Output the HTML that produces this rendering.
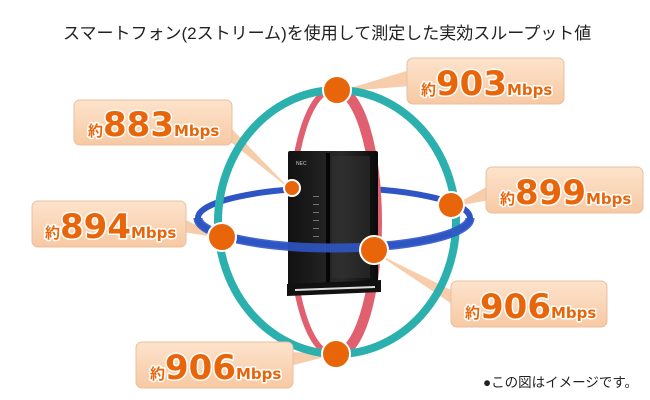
<!DOCTYPE html>
<html><head><meta charset="utf-8"><style>
html,body{margin:0;padding:0;background:#fff;width:650px;height:400px;overflow:hidden}
svg{display:block}
.t{font-family:"DejaVu Sans","Noto Sans CJK JP",sans-serif;font-weight:bold;fill:#e8650a;stroke:#fff;stroke-width:3;paint-order:stroke;stroke-linejoin:round}
</style></head><body>
<svg width="650" height="400" viewBox="0 0 650 400" xmlns="http://www.w3.org/2000/svg">
<defs>
<linearGradient id="bx" x1="0" y1="0" x2="0" y2="1"><stop offset="0" stop-color="#fde3cc"/><stop offset="1" stop-color="#f7c9a3"/></linearGradient>
<linearGradient id="rt" x1="0" y1="0" x2="1" y2="0"><stop offset="0" stop-color="#111"/><stop offset="0.6" stop-color="#2a2a2a"/><stop offset="1" stop-color="#0a0a0a"/></linearGradient>
</defs>
<text x="63" y="39" font-family="Liberation Sans,'Noto Sans CJK JP',sans-serif" font-size="17" fill="#222">スマートフォン(2ストリーム)を使用して測定した実効スループット値</text>

<g fill="#f6c8a3" opacity="0.9">
<polygon points="410,70 410,86 337,92"/>
<polygon points="228,125 228,140 291,190"/>
<polygon points="490,185 490,200 451,207"/>
<polygon points="182,218 182,232 222,238"/>
<polygon points="455,292 455,306 374,252"/>
<polygon points="290,352 290,366 336,354"/>
</g>

<ellipse cx="334" cy="218" rx="136" ry="30" fill="none" stroke="#2f55c4" stroke-width="6"/>
<ellipse cx="333" cy="222" rx="42" ry="132" fill="none" stroke="#e06070" stroke-width="6"/>
<path d="M337,90 A40 132 0 0 1 337,354" fill="none" stroke="#e06070" stroke-width="10"/>
<ellipse cx="337" cy="222" rx="119" ry="132" fill="none" stroke="#2bb0ae" stroke-width="8"/>

<rect x="288" y="151" width="90" height="137" rx="2" fill="url(#rt)"/>
<rect x="326" y="153" width="4" height="133" fill="#050505"/>
<rect x="332" y="156" width="38" height="122" fill="#333" opacity="0.5"/>
<text x="296" y="165" font-family="Liberation Sans,sans-serif" font-size="5" fill="#ccc">NEC</text>
<g fill="#777"><rect x="313" y="196" width="6" height="1"/><rect x="313" y="204" width="6" height="1"/><rect x="313" y="212" width="6" height="1"/><rect x="313" y="220" width="6" height="1"/><rect x="313" y="228" width="6" height="1"/><rect x="313" y="236" width="6" height="1"/></g>
<polygon points="287,284 381,280 381,292 287,296" fill="#111"/>
<polygon points="295,289 375,286 375,288 295,291" fill="#ddd"/>

<path d="M198,218 A136 30 0 0 0 470,218" fill="none" stroke="#2f55c4" stroke-width="9" opacity="0.9"/>

<g fill="#e8650a" stroke="#fff" stroke-width="2">
<circle cx="337" cy="90" r="14"/>
<circle cx="292" cy="188" r="8"/>
<circle cx="451" cy="205" r="13"/>
<circle cx="222" cy="237" r="14"/>
<circle cx="374" cy="250" r="14"/>
<circle cx="336" cy="354" r="14"/>
</g>

<g fill="url(#bx)" stroke="#e8bfa0" stroke-width="1">
<rect x="407" y="58" width="157" height="46" rx="6"/>
<rect x="74" y="100" width="158" height="45" rx="6"/>
<rect x="486" y="167" width="157" height="46" rx="6"/>
<rect x="32" y="201" width="154" height="46" rx="6"/>
<rect x="451" y="281" width="156" height="46" rx="6"/>
<rect x="136" y="342" width="157" height="46" rx="6"/>
</g>
<g class="t">
<text x="421" y="95"><tspan font-size="15">約</tspan><tspan font-size="34">903</tspan><tspan font-size="15">Mbps</tspan></text>
<text x="88" y="136"><tspan font-size="15">約</tspan><tspan font-size="34">883</tspan><tspan font-size="15">Mbps</tspan></text>
<text x="500" y="204"><tspan font-size="15">約</tspan><tspan font-size="34">899</tspan><tspan font-size="15">Mbps</tspan></text>
<text x="45" y="238"><tspan font-size="15">約</tspan><tspan font-size="34">894</tspan><tspan font-size="15">Mbps</tspan></text>
<text x="465" y="318"><tspan font-size="15">約</tspan><tspan font-size="34">906</tspan><tspan font-size="15">Mbps</tspan></text>
<text x="150" y="379"><tspan font-size="15">約</tspan><tspan font-size="34">906</tspan><tspan font-size="15">Mbps</tspan></text>
</g>
<text x="483" y="387" font-family="Liberation Sans,'Noto Sans CJK JP',sans-serif" font-size="13.5" fill="#222">●この図はイメージです。</text>
</svg>
</body></html>
